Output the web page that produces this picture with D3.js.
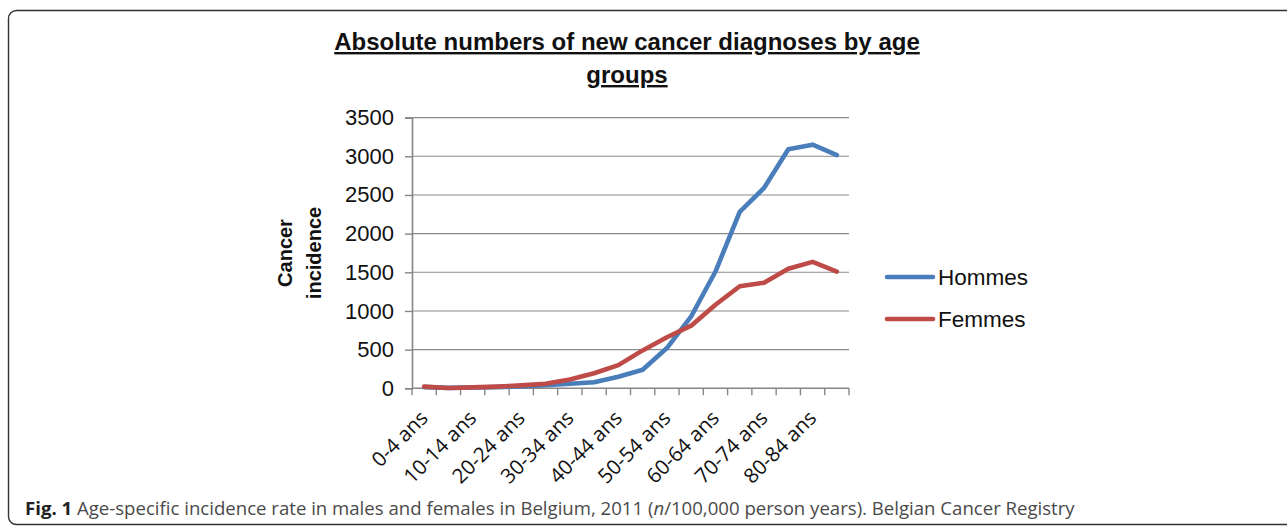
<!DOCTYPE html>
<html>
<head>
<meta charset="utf-8">
<script src="https://cdn.jsdelivr.net/npm/d3@7"></script>
<style>
  html, body { margin: 0; padding: 0; background: #fff; }
  svg { display: block; }
</style>
</head>
<body>
<svg id="chart" width="1287" height="527"></svg>
<script>
// ---- data ----
const categories = ["0-4 ans","5-9 ans","10-14 ans","15-19 ans","20-24 ans","25-29 ans","30-34 ans","35-39 ans","40-44 ans","45-49 ans","50-54 ans","55-59 ans","60-64 ans","65-69 ans","70-74 ans","75-79 ans","80-84 ans","85+ ans"];
const hommes = [15, 5, 10, 15, 25, 40, 58, 78, 150, 240, 520, 930, 1510, 2280, 2590, 3090, 3150, 3015];
const femmes = [22, 4, 12, 22, 38, 58, 115, 195, 300, 490, 660, 810, 1080, 1320, 1365, 1545, 1635, 1510];
const yTicks = [0, 500, 1000, 1500, 2000, 2500, 3000, 3500];
const seriesNames = ["Hommes", "Femmes"];
const titleLines = ["Absolute numbers of new cancer diagnoses by age", "groups"];
const yTitleLines = ["Cancer", "incidence"];
const captionBold = "Fig. 1";
const captionText = " Age-specific incidence rate in males and females in Belgium, 2011 (";
const captionItalic = "n";
const captionTail = "/100,000 person years). Belgian Cancer Registry";

// ---- layout ----
const svg = d3.select("#chart");
const plot = { left: 412, right: 849, top: 117.6, bottom: 388.3 };
const colors = { Hommes: "#4a7ebb", Femmes: "#be4b48" };
const axisColor = "#868686";
const sans = "'Liberation Sans', Arial, Helvetica, sans-serif";

// frame
svg.append("rect")
  .attr("x", 8.5).attr("y", 10.5)
  .attr("width", 1300).attr("height", 514)
  .attr("rx", 8).attr("ry", 8)
  .attr("fill", "none").attr("stroke", "#333").attr("stroke-width", 1.4);

const x = d3.scaleBand().domain(categories).range([plot.left, plot.right]).padding(0);
const y = d3.scaleLinear().domain([0, 3500]).range([plot.bottom, plot.top]);

// gridlines
svg.append("g")
  .selectAll("line").data(yTicks.filter(d => d > 0)).join("line")
  .attr("x1", plot.left).attr("x2", plot.right)
  .attr("y1", d => y(d)).attr("y2", d => y(d))
  .attr("stroke", "#8a8a8a").attr("stroke-width", 1.1);

// y axis
const yAxis = d3.axisLeft(y).tickValues(yTicks).tickSize(7).tickPadding(11).tickFormat(d3.format("d"));
const gy = svg.append("g").attr("transform", `translate(${plot.left},0)`).call(yAxis);
gy.select(".domain").attr("stroke", axisColor).attr("stroke-width", 1.6);
gy.selectAll(".tick line").attr("stroke", axisColor).attr("stroke-width", 1.4);
gy.selectAll(".tick text").attr("font-family", sans).attr("font-size", 22).attr("fill", "#111");

// x axis (ticks at band edges)
const edges = categories.map(c => x(c)).concat([plot.right]);
const gx = svg.append("g");
gx.append("line").attr("x1", plot.left).attr("x2", plot.right)
  .attr("y1", plot.bottom).attr("y2", plot.bottom)
  .attr("stroke", axisColor).attr("stroke-width", 1.6);
gx.selectAll("line.tk").data(edges).join("line").attr("class", "tk")
  .attr("x1", d => d).attr("x2", d => d)
  .attr("y1", plot.bottom).attr("y2", plot.bottom + 7)
  .attr("stroke", axisColor).attr("stroke-width", 1.4);
gx.selectAll("text").data(categories.filter((c, i) => i % 2 === 0)).join("text")
  .attr("transform", d => `translate(${x(d) + x.bandwidth() / 2 + 5},${plot.bottom + 31}) rotate(-45)`)
  .attr("text-anchor", "end")
  .attr("font-family", "'Open Sans', sans-serif")
  .attr("font-size", 20.5)
  .attr("fill", "#111")
  .text(d => d);

// lines
const line = d3.line()
  .x((d, i) => x(categories[i]) + x.bandwidth() / 2)
  .y(d => y(d));
[["Hommes", hommes], ["Femmes", femmes]].forEach(([name, vals]) => {
  svg.append("path").datum(vals)
    .attr("d", line)
    .attr("fill", "none")
    .attr("stroke", colors[name])
    .attr("stroke-width", 4.6)
    .attr("stroke-linejoin", "round")
    .attr("stroke-linecap", "round");
});

// legend
const lg = svg.append("g");
seriesNames.forEach((name, i) => {
  const ly = 277 + i * 42;
  lg.append("line").attr("x1", 887).attr("x2", 933).attr("y1", ly).attr("y2", ly)
    .attr("stroke", colors[name]).attr("stroke-width", 4.6).attr("stroke-linecap", "round");
  lg.append("text").attr("x", 938).attr("y", ly + 8)
    .attr("font-family", sans).attr("font-size", 22.5).attr("fill", "#111").text(name);
});

// title
titleLines.forEach((t, i) => {
  svg.append("text")
    .attr("x", 627).attr("y", 50 + i * 33)
    .attr("text-anchor", "middle")
    .attr("font-family", sans).attr("font-weight", "bold").attr("font-size", 24)
    .attr("fill", "#111")
    .style("text-decoration", "underline")
    .text(t);
});

// y title
yTitleLines.forEach((t, i) => {
  svg.append("text")
    .attr("transform", `translate(${292 + i * 29},${253}) rotate(-90)`)
    .attr("text-anchor", "middle")
    .attr("font-family", sans).attr("font-weight", "bold").attr("font-size", 20)
    .attr("fill", "#111")
    .text(t);
});

// caption
const cap = svg.append("text").attr("x", 25).attr("y", 515)
  .attr("font-family", "'Open Sans', sans-serif").attr("font-size", 18.6).attr("fill", "#4a4a4a");
cap.append("tspan").attr("font-weight", "bold").attr("fill", "#222").text(captionBold);
cap.append("tspan").text(captionText);
cap.append("tspan").attr("font-style", "italic").text(captionItalic);
cap.append("tspan").text(captionTail);
</script>
</body>
</html>
